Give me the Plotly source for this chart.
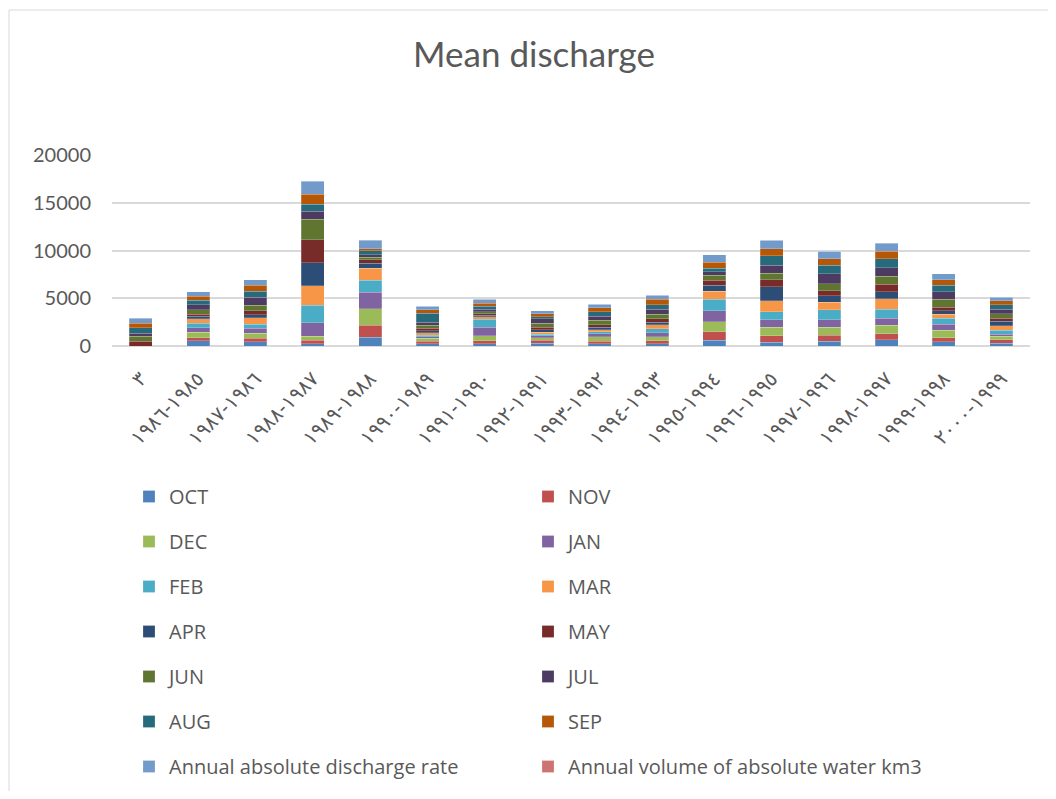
import plotly.graph_objects as go

# season labels (Arabic-Indic digits, as in the source sheet)
seasons = ["٣", "١٩٨٥-١٩٨٦", "١٩٨٦-١٩٨٧", "١٩٨٧-١٩٨٨", "١٩٨٨-١٩٨٩", "١٩٨٩-١٩٩٠",
           "١٩٩٠-١٩٩١", "١٩٩١-١٩٩٢", "١٩٩٢-١٩٩٣", "١٩٩٣-١٩٩٤", "١٩٩٤-١٩٩٥",
           "١٩٩٥-١٩٩٦", "١٩٩٦-١٩٩٧", "١٩٩٧-١٩٩٨", "١٩٩٨-١٩٩٩", "١٩٩٩-٢٠٠٠"]

# monthly mean discharge
oct_ = [0, 540, 420, 250, 920, 240, 230, 280, 260, 260, 590, 370, 490, 660, 470, 310]
nov = [0, 320, 410, 360, 1230, 260, 320, 310, 260, 310, 910, 730, 630, 630, 420, 350]
dec = [0, 560, 530, 400, 1760, 310, 540, 290, 440, 400, 1060, 870, 860, 870, 740, 350]
jan = [0, 480, 480, 1430, 1700, 170, 870, 170, 310, 440, 1150, 800, 750, 730, 670, 230]
feb = [0, 490, 440, 1830, 1290, 170, 840, 180, 200, 420, 1170, 840, 1060, 960, 610, 420]
mar = [0, 440, 660, 2020, 1220, 240, 280, 230, 240, 380, 840, 1120, 790, 1120, 440, 470]
apr = [0, 270, 350, 2420, 540, 200, 150, 250, 230, 300, 660, 1500, 680, 720, 350, 450]
may = [500, 200, 410, 2440, 350, 260, 170, 270, 270, 330, 490, 700, 510, 790, 370, 310]
jun = [520, 480, 590, 2100, 290, 340, 200, 420, 510, 510, 520, 700, 770, 810, 840, 500]
jul = [300, 560, 820, 870, 270, 290, 270, 450, 400, 510, 370, 820, 1010, 910, 770, 450]
aug = [600, 470, 640, 710, 380, 950, 280, 200, 490, 470, 400, 1000, 910, 940, 680, 470]
sep = [450, 420, 630, 1040, 210, 380, 310, 350, 400, 560, 610, 730, 680, 800, 580, 410]
annual_rate = [560, 440, 560, 1390, 940, 350, 410, 300, 360, 430, 780, 870, 760, 830, 600, 410]
annual_volume = [18, 14, 17, 44, 29, 11, 13, 9, 11, 14, 25, 27, 24, 26, 19, 13]

series = [
    ("OCT", oct_, "#4F81BD"),
    ("NOV", nov, "#C0504D"),
    ("DEC", dec, "#9BBB59"),
    ("JAN", jan, "#8064A2"),
    ("FEB", feb, "#4BACC6"),
    ("MAR", mar, "#F79646"),
    ("APR", apr, "#2C4D75"),
    ("MAY", may, "#772C2A"),
    ("JUN", jun, "#5F7530"),
    ("JUL", jul, "#4D3B62"),
    ("AUG", aug, "#276A7C"),
    ("SEP", sep, "#B65708"),
    ("Annual absolute discharge rate", annual_rate, "#729ACA"),
    ("Annual volume of absolute water km3", annual_volume, "#CD7371"),
]

FONT = "Lato, DejaVu Sans, sans-serif"
LEG_FONT = "Open Sans, DejaVu Sans, sans-serif"
GREY = "#595959"

# page has an 8px body margin, so the figure is sized to fit inside it
W, H = 1040, 783

fig = go.Figure()
for i, (name, vals, color) in enumerate(series):
    fig.add_trace(go.Bar(
        x=seasons, y=vals, name=name,
        marker=dict(color=color, line=dict(color="rgba(255,255,255,0.35)", width=0.6)),
        legend="legend" if i % 2 == 0 else "legend2",  # two legend columns
        legendgroup=name,
    ))

legend_style = dict(
    orientation="v", xref="container", yref="container",
    xanchor="left", yanchor="top", y=1 - 469 / H,
    font=dict(family=LEG_FONT, size=20, color=GREY),
    tracegroupgap=16, bgcolor="rgba(0,0,0,0)",
)

fig.update_layout(
    barmode="stack",
    bargap=0.6,
    width=W, height=H,
    margin=dict(l=104, r=18, t=147, b=445, autoexpand=False),
    paper_bgcolor="white", plot_bgcolor="white",
    title=dict(text="Mean discharge", x=526 / W, xref="container", y=1 - 47 / H,
               yanchor="middle", font=dict(family=FONT, size=35, color=GREY)),
    xaxis=dict(tickangle=-45, tickfont=dict(family=FONT, size=20, color=GREY),
               showgrid=False, showline=False, ticks="", ticklabelstandoff=16),
    yaxis=dict(range=[0, 20000], dtick=5000, tickformat="d",
               tickfont=dict(family=FONT, size=20, color=GREY),
               gridcolor="#D9D9D9", gridwidth=1.5, zeroline=True, zerolinecolor="#D9D9D9",
               zerolinewidth=1.5, showline=False, ticks="", ticklabelstandoff=20),
    legend=dict(x=121 / W, **legend_style),
    legend2=dict(x=520 / W, **legend_style),
    shapes=[dict(type="rect", xref="paper", yref="paper",
                 x0=-103 / 918, x1=1.2, y0=-3, y1=336 / 191,
                 line=dict(color="#D9D9D9", width=1))],
)

fig.write_html("out.html")
